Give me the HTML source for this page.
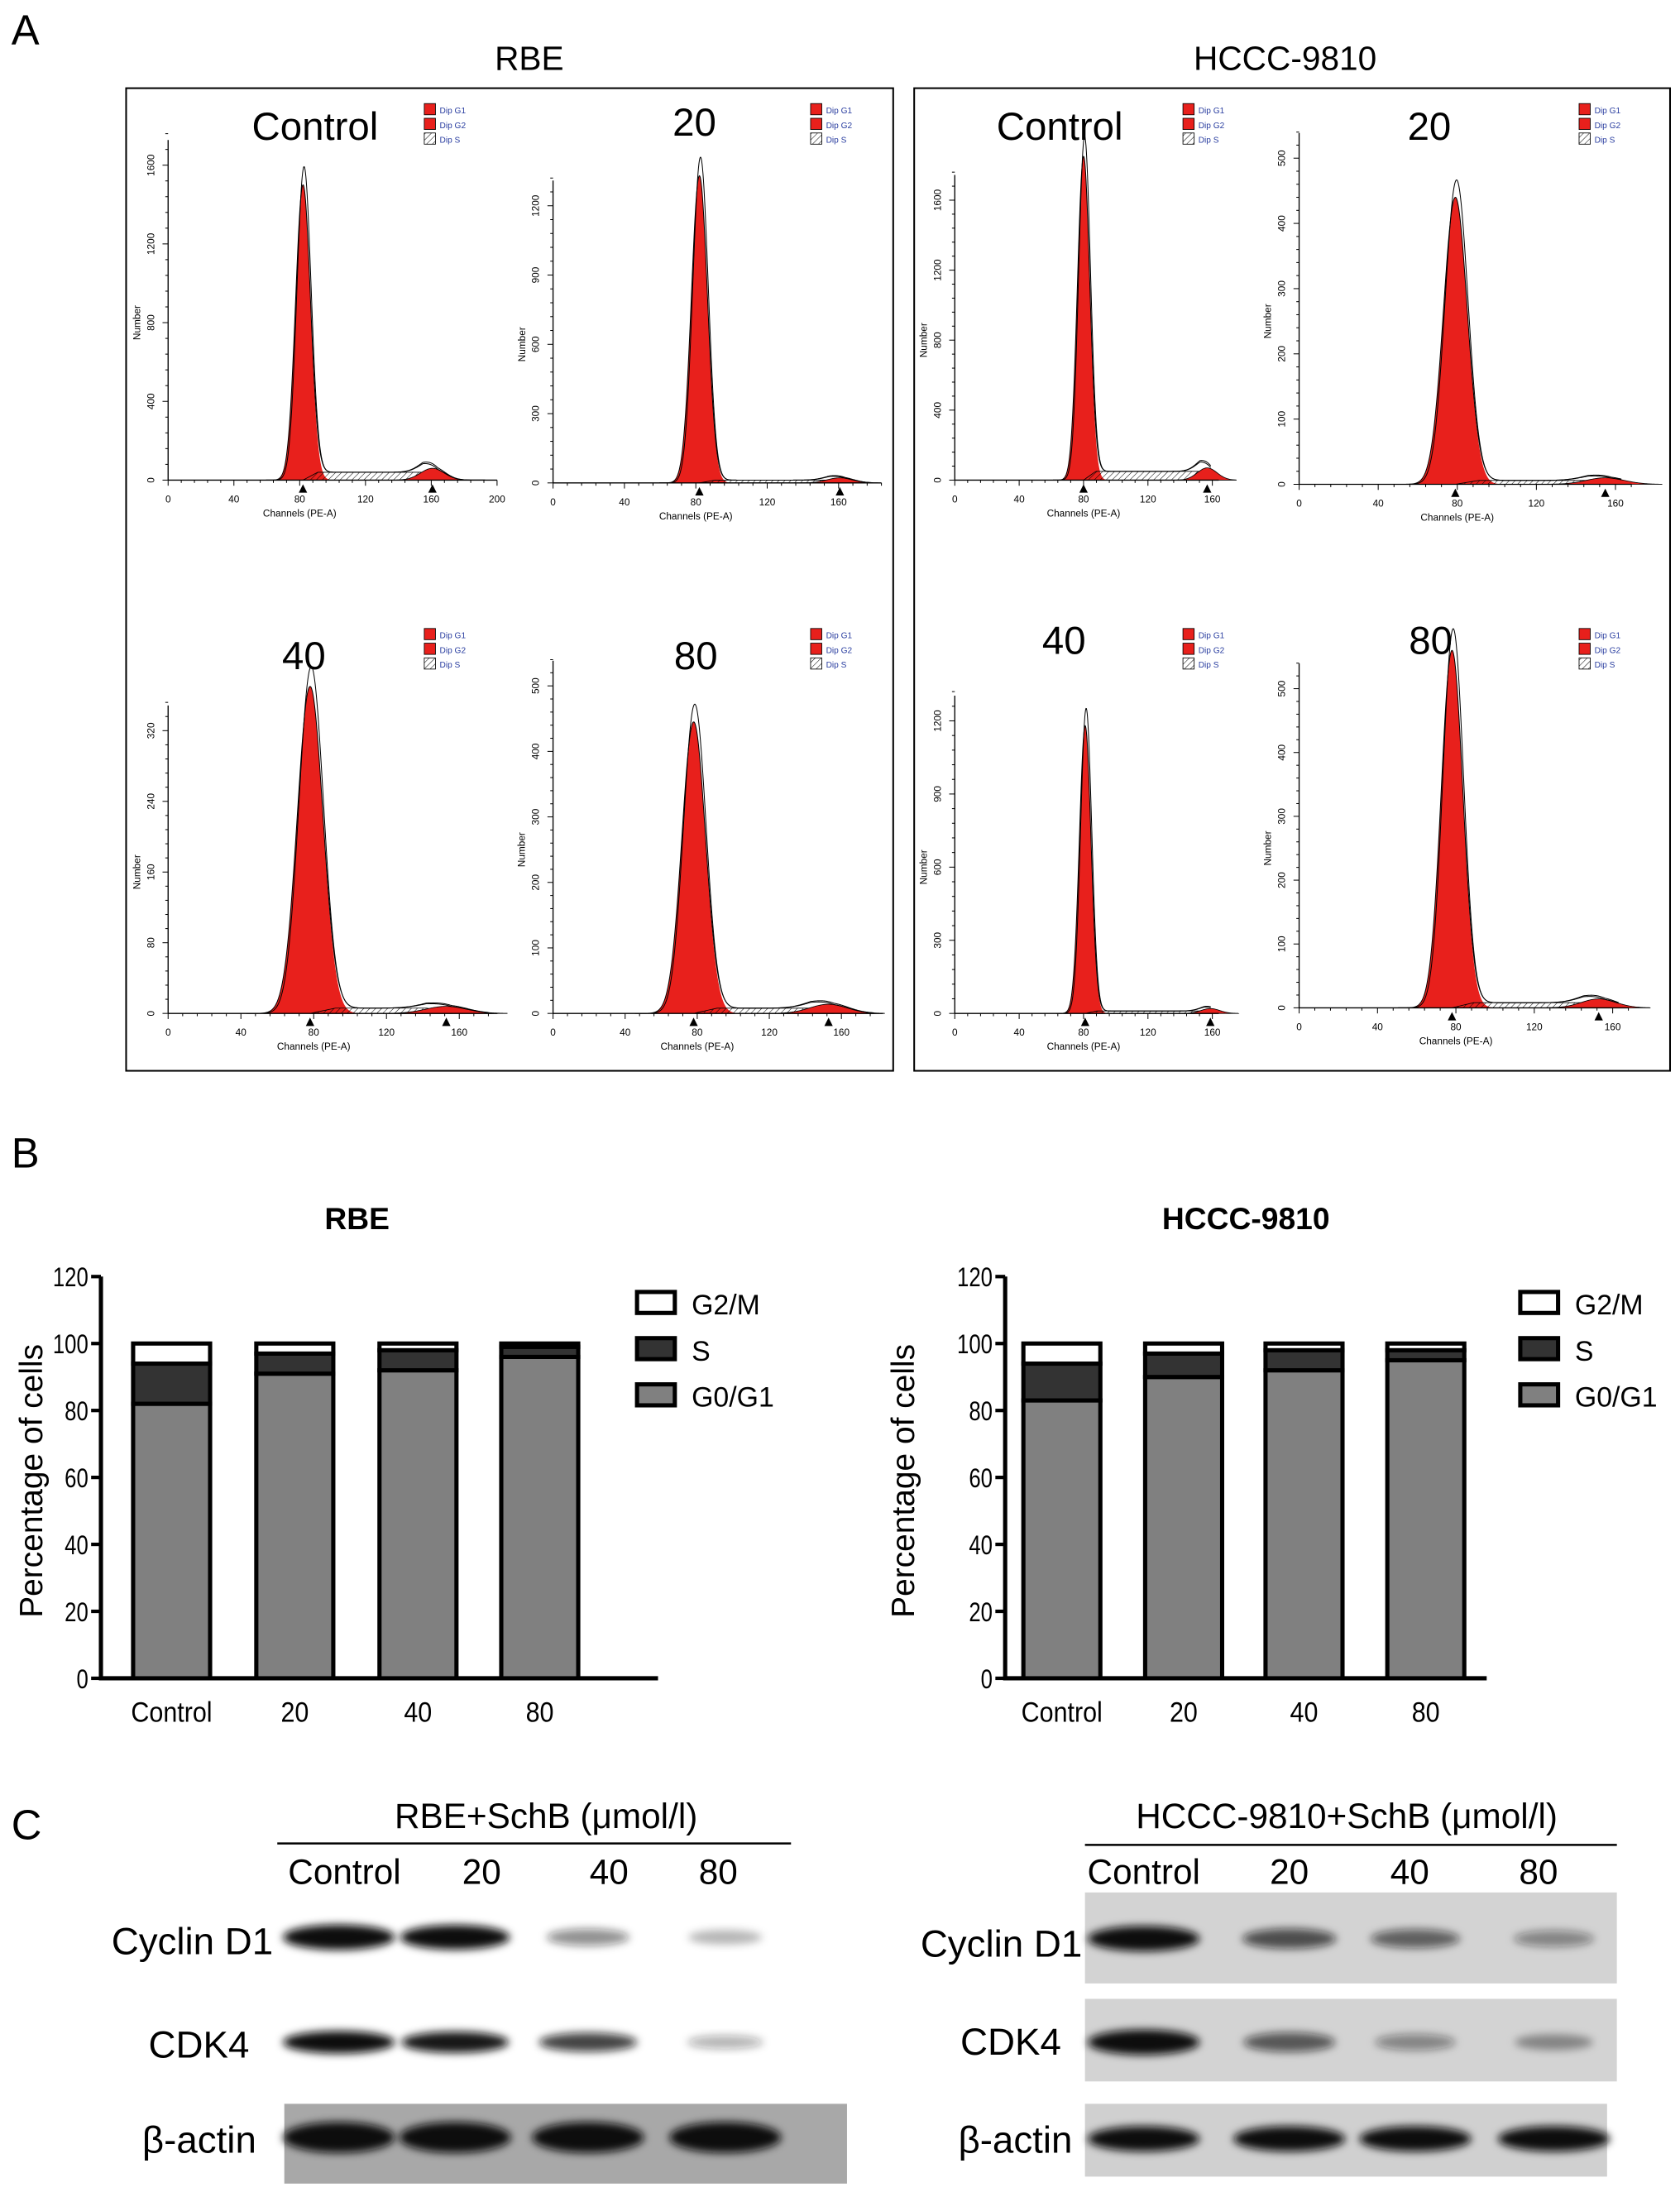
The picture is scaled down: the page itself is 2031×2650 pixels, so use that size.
<!DOCTYPE html>
<html><head><meta charset="utf-8">
<style>
html,body{margin:0;padding:0;background:#fff;}
svg{display:block;font-family:"Liberation Sans",Arial,sans-serif;}
</style></head>
<body>
<svg id="fig" xmlns="http://www.w3.org/2000/svg" width="2031" height="2650" viewBox="0 0 1200 1566">
<defs>
<filter id="blur" x="-50%" y="-50%" width="200%" height="200%"><feGaussianBlur stdDeviation="3"/></filter>
<pattern id="hatch" width="3" height="3" patternUnits="userSpaceOnUse" patternTransform="rotate(45)"><line x1="0" y1="0" x2="0" y2="3" stroke="#000" stroke-width="0.6"/></pattern>
</defs>
<g id="root"></g>
</svg>
<script>
// ---------- Panel A data ----------
const histTitles = ["Control","20","40","80","Control","20","40","80"];
const histTicks = [[0,400,800,1200,1600],[0,300,600,900,1200],[0,80,160,240,320],[0,100,200,300,400,500],
                   [0,400,800,1200,1600],[0,100,200,300,400,500],[0,300,600,900,1200],[0,100,200,300,400,500]];
const xTicksA = [[0,40,80,120,160,200],[0,40,80,120,160],[0,40,80,120,160],[0,40,80,120,160],
                 [0,40,80,120,160],[0,40,80,120,160],[0,40,80,120,160],[0,40,80,120,160]];
const peakCounts = [1500,1330,370,445,1850,440,1180,560];
const peakCenters = [82,82,78,78,80,79,81,78];
const peakSigmas = [4.5,4.5,7,6.5,3.8,6,3.6,5.5];
const sCounts = [40,12,6,8,50,6,10,8];
const g2Counts = [60,22,8,14,70,10,20,14];
// ---------- Panel B data ----------
const barCats = ["Control","20","40","80"];
const rbeG1 = [82,91,92,96];
const rbeS = [12,6,6,3];
const rbeG2 = [6,3,2,1];
const hcccG1 = [83,90,92,95];
const hcccS = [11,7,6,3];
const hcccG2 = [6,3,2,2];
const yTicksB = [0,20,40,60,80,100,120];
// ---------- Panel C data (band intensity 0..1) ----------
const lanes = ["Control","20","40","80"];
const rbeCyclin = [1.0,0.95,0.35,0.15];
const rbeCdk4 = [1.0,0.9,0.7,0.2];
const rbeActin = [1,1,1,1];
const hcccCyclin = [1.0,0.6,0.5,0.3];
const hcccCdk4 = [1.0,0.55,0.3,0.25];
const hcccActin = [1,1,1,1];

const NS="http://www.w3.org/2000/svg";
const root=document.getElementById('root');
function mk(tag,attrs,parent){const e=document.createElementNS(NS,tag);for(const k in attrs)e.setAttribute(k,attrs[k]);(parent||root).appendChild(e);return e;}
function txt(x,y,s,size,opts,parent){const o=Object.assign({x:x,y:y,'font-size':size,fill:'#000'},opts||{});const t=mk('text',o,parent);t.textContent=s;return t;}

// ---- Panel A ----
let t=txt(8,32,"A",30);
t=txt(378,50,"RBE",24,{'text-anchor':'middle'});
t=txt(918,50,"HCCC-9810",24,{'text-anchor':'middle'});
let b=mk('rect',{x:90,y:63,width:548,height:702,fill:'none',stroke:'#000','stroke-width':1.2});
b=mk('rect',{x:653,y:63,width:540,height:702,fill:'none',stroke:'#000','stroke-width':1.2});

const layA=[
 {x0:120,ppc:47/40,y0:343,yTopTick:118,xmax:200,tx:225,ty:100,lx:303,ly:74},
 {x0:395,ppc:51/40,y0:345,yTopTick:147,xmax:184,tx:496,ty:97,lx:579,ly:74},
 {x0:120,ppc:52/40,y0:724,yTopTick:522,xmax:181,tx:217,ty:478,lx:303,ly:449},
 {x0:395,ppc:51.5/40,y0:724,yTopTick:490,xmax:183,tx:497,ty:478,lx:579,ly:449},
 {x0:682,ppc:46/40,y0:343,yTopTick:143,xmax:164,tx:757,ty:100,lx:845,ly:74},
 {x0:928,ppc:56.5/40,y0:346,yTopTick:113,xmax:168,tx:1021,ty:100,lx:1128,ly:74},
 {x0:682,ppc:46/40,y0:724,yTopTick:515,xmax:164,tx:760,ty:467,lx:845,ly:449},
 {x0:928,ppc:56/40,y0:720,yTopTick:492,xmax:168,tx:1022,ty:467,lx:1128,ly:449}];

function gauss(x,c,s){return Math.exp(-0.5*((x-c)/s)**2);}
layA.forEach((L,i)=>{
  const g=mk('g',{});
  
  
  const ticks=histTicks[i], tmax=ticks[ticks.length-1];
  const ys=(L.y0-L.yTopTick)/tmax;
  const X=c=>L.x0+c*L.ppc, Y=v=>L.y0-v*ys;
  const c=peakCenters[i], s=peakSigmas[i], P=peakCounts[i], S=sCounts[i], G2=g2Counts[i];
  let d='M'+X(c-4*s)+','+Y(0);
  for(let ch=c-4*s;ch<=c+4*s;ch+=0.25)d+=' L'+X(ch).toFixed(2)+','+Y(P*gauss(ch,c,s)).toFixed(2);
  d+=' L'+X(c+4*s)+','+Y(0)+'Z';
  let p=mk('path',{d:d,fill:'#e8201c',stroke:'none'},g);
  d='M'+X(c)+','+Y(0);
  for(let ch=c;ch<=2*c;ch+=1){const v=S*Math.min(1,(ch-c)/(2*s))*Math.min(1,(2*c-ch)/(2*s));d+=' L'+X(ch)+','+Y(v);}
  d+=' L'+X(2*c)+','+Y(0)+'Z';
  p=mk('path',{d:d,fill:'url(#hatch)',stroke:'#000','stroke-width':0.5},g);
  const c2=2*c*0.98, s2=s*1.6;
  d='M'+X(c2-3*s2)+','+Y(0);
  for(let ch=c2-3*s2;ch<=c2+3*s2;ch+=0.5)d+=' L'+X(ch)+','+Y(G2*gauss(ch,c2,s2));
  d+=' L'+X(c2+3*s2)+','+Y(0)+'Z';
  p=mk('path',{d:d,fill:'#e8201c',stroke:'#000','stroke-width':0.5},g);
  [[1.0,0],[1.06,0.6]].forEach(([k,sh],j)=>{
    let dd='';
    for(let ch=c-5*s;ch<=Math.min(L.xmax-5,2*c+4*s2);ch+=0.25){
      let sv=S*Math.min(1,Math.max(0,(ch-c)/(2*s)))*Math.min(1,Math.max(0,(2*c-ch)/(2*s)));
      const v=k*P*gauss(ch,c+sh,s*(1-0.04*j))+sv+G2*gauss(ch,c2,s2)*(1+0.15*j);
      dd+=(dd?' L':'M')+X(ch).toFixed(2)+','+Y(v).toFixed(2);}
    const o=mk('path',{d:dd,fill:'none',stroke:'#000','stroke-width':0.6},g);
    
    
  });
  let a=mk('line',{x1:L.x0,y1:L.y0,x2:X(L.xmax),y2:L.y0,stroke:'#000','stroke-width':0.8},g);
  a=mk('line',{x1:L.x0,y1:L.y0,x2:L.x0,y2:L.yTopTick-18,stroke:'#000','stroke-width':0.8},g);
  for(let ch=0;ch<=L.xmax;ch+=8){mk('line',{x1:X(ch),y1:L.y0,x2:X(ch),y2:L.y0+(ch%40==0?4:2),stroke:'#000','stroke-width':0.6},g);}
  xTicksA[i].filter(v=>v<=L.xmax).forEach(v=>{const tt=txt(X(v),L.y0+16,String(v),7,{'text-anchor':'middle'},g);});
  const step=(ticks[1]-ticks[0])/5;
  for(let v=0;v<=tmax+2*step;v+=step){mk('line',{x1:L.x0,y1:Y(v),x2:L.x0-(Math.abs(v/(ticks[1]-ticks[0])-Math.round(v/(ticks[1]-ticks[0])))<1e-6?4:2),y2:Y(v),stroke:'#000','stroke-width':0.6},g);}
  ticks.forEach(v=>{const tt=txt(L.x0-10,Y(v),String(v),7,{'text-anchor':'middle',transform:'rotate(-90 '+(L.x0-10)+' '+Y(v)+')'},g);});
  let yl=(L.y0+L.yTopTick)/2;
  let tt=txt(L.x0-20,yl,"Number",7,{'text-anchor':'middle',transform:'rotate(-90 '+(L.x0-20)+' '+yl+')'},g);
  tt=txt(X(80),L.y0+26,"Channels (PE-A)",7,{'text-anchor':'middle'},g);
  [c,2*c*0.98].forEach(m=>{const tr=mk('path',{d:`M${X(m)-3},${L.y0+9} L${X(m)+3},${L.y0+9} L${X(m)},${L.y0+3}Z`,fill:'#000'},g);});
  tt=txt(L.tx,L.ty,histTitles[i],28,{'text-anchor':'middle'},g);
  ["Dip G1","Dip G2","Dip S"].forEach((n,k)=>{
    const r=mk('rect',{x:L.lx,y:L.ly+k*10.5,width:8,height:8,fill:k<2?'#e8201c':'url(#hatch)',stroke:'#000','stroke-width':0.5},g);
    
    const lt=txt(L.lx+11,L.ly+k*10.5+7,n,6,{fill:'#2a3ea0'},g);
    
  });
});

// ---- Panel B ----
t=txt(8,834,"B",30);
function barChart(ax,xEnd,barX,g1,s,g2,title,titleX,legX,yLabX,nm){
  const g=mk('g',{});
  
  
  const y0=1199, yPer=(1199-912)/120;
  const Y=v=>y0-v*yPer;
  let tt=txt(titleX,878,title,22,{'text-anchor':'middle','font-weight':'bold'},g);
  let a=mk('line',{x1:ax,y1:Y(120),x2:ax,y2:y0,stroke:'#000','stroke-width':3},g);
  a=mk('line',{x1:ax-1.5,y1:y0,x2:xEnd,y2:y0,stroke:'#000','stroke-width':3},g);
  yTicksB.forEach(v=>{mk('line',{x1:ax-7,y1:Y(v),x2:ax,y2:Y(v),stroke:'#000','stroke-width':2.5},g);
    const l=txt(0,0,String(v),19,{'text-anchor':'end',transform:`translate(${ax-9},${Y(v)+7}) scale(0.8,1)`},g);});
  const yc=1058;
  tt=txt(yLabX,yc,"Percentage of cells",23,{'text-anchor':'middle',transform:`rotate(-90 ${yLabX} ${yc})`},g);
  barCats.forEach((cat,i)=>{
    const x=barX[i], w=55;
    const segs=[[0,g1[i],'#808080','bar-g0g1'],[g1[i],g1[i]+s[i],'#333333','bar-s'],[g1[i]+s[i],g1[i]+s[i]+g2[i],'#ffffff','bar-g2m']];
    segs.forEach(([a0,a1,col,n])=>{const r=mk('rect',{x:x,y:Y(a1),width:w,height:Y(a0)-Y(a1),fill:col,stroke:'#000','stroke-width':3},g);
      });
    const l=txt(0,0,cat,20,{'text-anchor':'middle',transform:`translate(${x+w/2},1230) scale(0.9,1)`},g);
  });
  [["G2/M",'#fff',932],["S",'#333',965],["G0/G1",'#808080',998]].forEach(([n,col,yy])=>{
    const r=mk('rect',{x:legX,y:yy-9,width:27,height:15,fill:col,stroke:'#000','stroke-width':3},g);
    const l=txt(legX+39,yy+7,n,20,{},g);
  });
}
barChart(72,470,[95,183,271,358],rbeG1,rbeS,rbeG2,"RBE",255,455,30,'rbe-bar-chart');
barChart(718,1062,[731,818,904,991],hcccG1,hcccS,hcccG2,"HCCC-9810",890,1086,653,'hccc-bar-chart');

// ---- Panel C ----
t=txt(8,1314,"C",30);
function blot(cfg){
  const g=mk('g',{});
  
  
  let tt=txt(cfg.hx,1306,cfg.head,25,{'text-anchor':'middle'},g);
  let l=mk('line',{x1:cfg.lx1,y1:cfg.ly,x2:cfg.lx2,y2:cfg.ly,stroke:'#000','stroke-width':1.5},g);
  lanes.forEach((n,i)=>{const q=txt(cfg.laneX[i],1346,n,25,{'text-anchor':'middle'},g);});
  cfg.rows.forEach(r=>{
    if(r.bg){const bg=mk('rect',{x:r.bg[0],y:r.bg[1],width:r.bg[2],height:r.bg[3],fill:r.bgc},g);}
    const q=txt(r.labX,r.labY,r.label,27,{'text-anchor':'end'},g);
    r.vals.forEach((v,i)=>{
      const e=mk('ellipse',{cx:cfg.bandX[i],cy:r.y,rx:cfg.bw*(0.6+0.4*v),ry:r.h*(0.5+0.5*v),fill:'#111','fill-opacity':Math.min(1,0.15+0.9*v),filter:'url(#blur)'},g);
      
      
    });
  });
}
blot({nm:'rbe-western-blot',head:"RBE+SchB (μmol/l)",hx:390,lx1:198,lx2:565,ly:1317,laneX:[246,344,435,513],bandX:[242,325,420,518],bw:40,
  rows:[{label:"Cyclin D1",labX:195,labY:1396,y:1384,h:9,vals:rbeCyclin},
        {label:"CDK4",labX:178,labY:1470,y:1459,h:8,vals:rbeCdk4},
        {label:"β-actin",labX:183,labY:1538,y:1527,h:11,vals:rbeActin,bg:[203,1503,402,57],bgc:'#a8a8a8'}]});
blot({nm:'hccc-western-blot',head:"HCCC-9810+SchB (μmol/l)",hx:962,lx1:775,lx2:1155,ly:1318,laneX:[817,921,1007,1099],bandX:[817,921,1011,1110],bw:40,
  rows:[{label:"Cyclin D1",labX:773,labY:1398,y:1385,h:9,vals:hcccCyclin,bg:[775,1352,380,65],bgc:'#d3d3d3'},
        {label:"CDK4",labX:758,labY:1468,y:1459,h:9,vals:hcccCdk4,bg:[775,1428,380,59],bgc:'#d3d3d3'},
        {label:"β-actin",labX:766,labY:1538,y:1528,h:9,vals:hcccActin,bg:[775,1503,373,52],bgc:'#d0d0d0'}]});
</script>
</body></html>
